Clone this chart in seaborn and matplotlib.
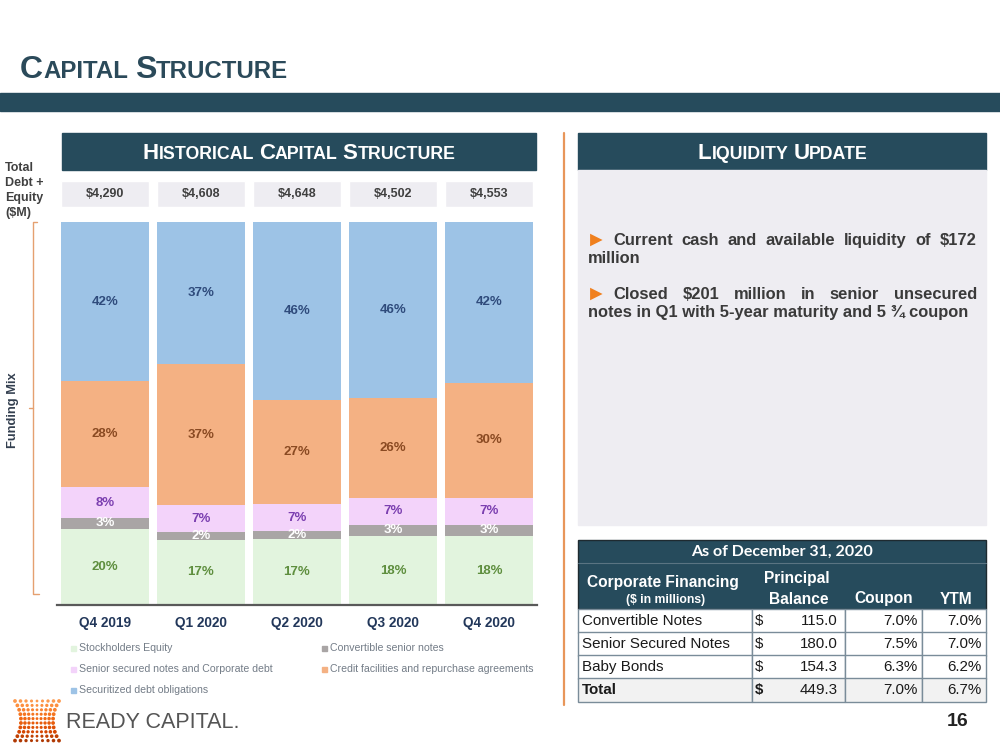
import matplotlib
matplotlib.use("Agg")
import matplotlib.pyplot as plt
from matplotlib.patches import Rectangle
import numpy as np
import seaborn as sns

# chart data
quarters = ["Q4 2019", "Q1 2020", "Q2 2020", "Q3 2020", "Q4 2020"]
totals = [4290, 4608, 4648, 4502, 4553]
equity = [20, 17, 17, 18, 18]
convertible = [3, 2, 2, 3, 3]
senior_secured = [8, 7, 7, 7, 7]
credit_facilities = [28, 37, 27, 26, 30]
securitized = [42, 37, 46, 46, 42]
layer_names = ["Stockholders Equity", "Convertible senior notes",
               "Senior secured notes and Corporate debt",
               "Credit facilities and repurchase agreements",
               "Securitized debt obligations"]

# table data
fin_names = ["Convertible Notes", "Senior Secured Notes", "Baby Bonds", "Total"]
principal = [115.0, 180.0, 154.3, 449.3]
coupon = [7.0, 7.5, 6.3, 7.0]
ytm = [7.0, 7.0, 6.2, 6.7]

bullets = [
    ("Current cash and available liquidity of $172", "million"),
    ("Closed $201 million in senior unsecured",
     "notes in Q1 with 5-year maturity and 5 \u00be coupon"),
]

fill_colors = ["#E2F4DE", "#A9A5A5", "#F3D3FA", "#F4B183", "#9DC3E6"]
label_colors = ["#5E8E3E", "white", "#7B3FB0", "#8A4A22", "#2F4B7C"]
teal = "#264B5C"
panel = "#EEEDF2"
dark = "#3A3A3A"

sns.set_theme(style="white")
plt.rcParams["font.family"] = ["Liberation Sans", "DejaVu Sans"]

fig = plt.figure(figsize=(10, 7.5), dpi=100)
fig.patch.set_facecolor("white")
bg = fig.add_axes([0, 0, 1, 1])
bg.set_xlim(0, 1000)
bg.set_ylim(750, 0)
bg.axis("off")
renderer = fig.canvas.get_renderer()


def width_of(t):
    return t.get_window_extent(renderer).width


def small_caps(x, y, text, big, small, color, center=False):
    arts = []
    cx = x
    for k, word in enumerate(text.split()):
        if k:
            cx += 0.278 * small * 100 / 72
        for s, size in ((word[0], big), (word[1:], small)):
            t = bg.text(cx, y, s, fontsize=size, fontweight="bold", color=color,
                        va="baseline", ha="left")
            cx += width_of(t)
            arts.append(t)
    if center:
        shift = (cx - x) / 2
        for t in arts:
            t.set_x(t.get_position()[0] - shift)


def justify(line, x0, x1, y, size):
    words = line.split()
    arts = [bg.text(0, y, w, fontsize=size, fontweight="bold", color=dark,
                    va="baseline") for w in words]
    widths = [width_of(a) for a in arts]
    gap = (x1 - x0 - sum(widths)) / (len(words) - 1)
    cx = x0
    for a, wd in zip(arts, widths):
        a.set_x(cx)
        cx += wd + gap


# slide title and band
small_caps(20, 78, "CAPITAL STRUCTURE", 23, 17.3, "#2B4A5A")
bg.add_patch(Rectangle((0, 93), 1000, 18, color=teal))

# panel headers
bg.add_patch(Rectangle((62, 133), 474, 37, color=teal))
small_caps(299, 159, "HISTORICAL CAPITAL STRUCTURE", 16, 12.8, "white", center=True)
bg.add_patch(Rectangle((578, 133), 408, 37, color=teal))
small_caps(783, 159, "LIQUIDITY UPDATE", 16, 12.8, "white", center=True)

# divider
bg.plot([564, 564], [133, 705], color="#E8965A", lw=1.6)

# left side labels
for k, s in enumerate(["Total", "Debt +", "Equity", "($M)"]):
    bg.text(5, 171 + k * 15, s, fontsize=9, fontweight="bold", color="#404040",
            va="baseline")
bg.plot([37, 33, 33, 39], [222, 222, 594, 594], color="#E5A070", lw=1)
bg.plot([33, 29], [408, 408], color="#E5A070", lw=1)
bg.text(13, 410, "Funding Mix", rotation=90, fontsize=9.3, fontweight="bold",
        color="#333F4F", ha="center", va="center")

# totals boxes
tax = fig.add_axes([57 / 1000, (750 - 207) / 750, 480 / 1000, 26 / 750])
tax.bar(range(len(quarters)), 1, width=0.917, color=panel)
for j, v in enumerate(totals):
    tax.text(j, 0.5, f"${v:,}", ha="center", va="center", fontsize=9,
             fontweight="bold", color="#404040")
tax.set_xlim(-0.5, 4.5)
tax.set_ylim(0, 1)
tax.axis("off")

# stacked bars
raw = np.array([equity, convertible, senior_secured, credit_facilities, securitized], float)
shares = raw / raw.sum(axis=0) * 100
cum = shares.cumsum(axis=0)

ax = fig.add_axes([57 / 1000, (750 - 605) / 750, 480 / 1000, 383 / 750])
ax.patch.set_alpha(0)
for i in reversed(range(len(raw))):
    sns.barplot(x=quarters, y=cum[i], color=fill_colors[i], saturation=1,
                width=0.917, errorbar=None, linewidth=0, ax=ax)
for i in range(len(raw)):
    for j in range(len(quarters)):
        ax.text(j, cum[i, j] - shares[i, j] / 2, f"{int(raw[i, j])}%", ha="center",
                va="center", fontsize=9.5, fontweight="bold", color=label_colors[i])
ax.set_xlim(-0.5, 4.5)
ax.set_ylim(0, 100)
ax.set_yticks([])
ax.set_xlabel("")
ax.set_ylabel("")
for side in ["top", "left", "right"]:
    ax.spines[side].set_visible(False)
ax.spines["bottom"].set_color("#595959")
ax.spines["bottom"].set_linewidth(1.6)
ax.tick_params(axis="x", length=0, pad=8)
for lab in ax.get_xticklabels():
    lab.set_fontweight("bold")
    lab.set_fontsize(9.8)
    lab.set_color("#22375A")

# legend
for k, name in enumerate(layer_names):
    r, c = divmod(k, 2)
    y = 648 + r * 21
    mx = [73, 324][c]
    bg.add_patch(Rectangle((mx - 2.5, y - 2.5), 5, 5, color=fill_colors[k]))
    bg.text(mx + 6, y, name, fontsize=7.6, color="#737C87", va="center")

# liquidity panel
bg.add_patch(Rectangle((578, 170), 408, 355, color=panel))
for k, (first, second) in enumerate(bullets):
    y = 245 + k * 54
    bg.text(586, y + 1, "\u25ba", fontsize=15, color="#F0801E", va="baseline",
            family=["Liberation Sans", "DejaVu Sans"])
    justify(first, 613, 977, y, 11.9)
    bg.text(588, y + 18, second, fontsize=11.9, fontweight="bold", color=dark,
            va="baseline")

# table
bg.add_patch(Rectangle((578, 540), 408, 69, facecolor=teal, edgecolor="#1E2A30", lw=1))
bg.plot([578, 986], [563, 563], color="#5A7482", lw=0.8)
bg.text(782, 552, "As of December 31, 2020", ha="center", va="center", fontsize=11.5,
        fontweight="bold", color="white", family=["Lato", "DejaVu Sans"])
bg.text(663, 582, "Corporate Financing", ha="center", va="center", fontsize=11.2,
        fontweight="bold", color="white")
bg.text(666, 600, "($ in millions)", ha="center", va="center", fontsize=8.8,
        fontweight="bold", color="white")
bg.text(797, 579, "Principal", ha="center", va="center", fontsize=11.2,
        fontweight="bold", color="white")
bg.text(799, 599, "Balance", ha="center", va="center", fontsize=11.2,
        fontweight="bold", color="white")
bg.text(884, 599, "Coupon", ha="center", va="center", fontsize=11.2,
        fontweight="bold", color="white")
bg.text(956, 599, "YTM", ha="center", va="center", fontsize=11.2,
        fontweight="bold", color="white")

row_top = [609, 632, 655, 678]
row_h = 23.5
col_x = [578, 752, 845, 922, 986]
for r, name in enumerate(fin_names):
    y0 = row_top[r]
    face = "#F2F2F2" if name == "Total" else "white"
    for c in range(4):
        bg.add_patch(Rectangle((col_x[c], y0), col_x[c + 1] - col_x[c], row_h,
                               facecolor=face, edgecolor="#7A8C99", lw=1))
    yc = y0 + row_h / 2 + 0.5
    w = "bold" if name == "Total" else "normal"
    bg.text(582, yc, name, fontsize=10.9, fontweight=w, color="#1A1A1A", va="center")
    bg.text(755, yc, "$", fontsize=10.9, fontweight=w, color="#1A1A1A", va="center")
    bg.text(838, yc, f"{principal[r]:.1f}", fontsize=10.9, color="#1A1A1A",
            va="center", ha="right")
    bg.text(918, yc, f"{coupon[r]:.1f}%", fontsize=10.9, color="#1A1A1A",
            va="center", ha="right")
    bg.text(982, yc, f"{ytm[r]:.1f}%", fontsize=10.9, color="#1A1A1A",
            va="center", ha="right")

# page number
bg.text(958, 722, "16", fontsize=14, fontweight="bold", color="#222222",
        ha="center", va="center")

# logo: dotted mark + wordmark
rows, cols = 10, 9
for r in range(rows):
    t = r / (rows - 1)
    half = 22 - 6 * (1 - (2 * t - 1) ** 2)
    xs = np.linspace(37 - half, 37 + half, cols)
    yy = 701 + r * 4.4
    shade = plt.cm.Oranges(0.45 + 0.4 * t)
    sizes = 4 + 3.5 * np.abs(np.linspace(-1, 1, cols))
    bg.scatter(xs, np.full(cols, yy), s=sizes, color=shade, linewidths=0)
bg.text(66, 722, "READY CAPITAL.", fontsize=15.5, color="#555555", va="center")

fig.savefig("out.png", dpi=100)
